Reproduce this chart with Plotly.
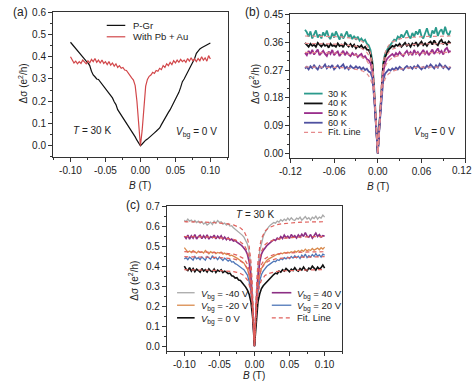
import numpy as np
import plotly.graph_objects as go

W, H = 474, 383
FONT = "Liberation Sans, Arial, sans-serif"

# ---------------- data ----------------
B = np.round(np.linspace(-0.1, 0.1, 81), 4)          # magnetic field sampling grid (T)
B_fit = [-0.1, -0.09, -0.08, -0.07, -0.06, -0.05, -0.04, -0.03, -0.025, -0.02, -0.015, -0.0125,
         -0.01, -0.0075, -0.005, -0.0035, -0.002, -0.001, 0.0, 0.001, 0.002, 0.0035, 0.005,
         0.0075, 0.01, 0.0125, 0.015, 0.02, 0.025, 0.03, 0.04, 0.05, 0.06, 0.07, 0.08, 0.09, 0.1]

# panel (a)
a_pgr = [0.465, 0.455, 0.445, 0.438, 0.425, 0.418, 0.405, 0.398, 0.388, 0.380,
         0.372, 0.360, 0.335, 0.318, 0.310, 0.300, 0.298, 0.288, 0.280, 0.270,
         0.260, 0.248, 0.240, 0.225, 0.215, 0.198, 0.185, 0.162, 0.150, 0.140,
         0.128, 0.115, 0.100, 0.090, 0.080, 0.070, 0.055, 0.040, 0.025, 0.010,
         0.000,
         0.008, 0.018, 0.025, 0.030, 0.036, 0.045, 0.052, 0.058, 0.065, 0.072,
         0.080, 0.095, 0.110, 0.118, 0.135, 0.150, 0.162, 0.178, 0.190, 0.205,
         0.222, 0.240, 0.262, 0.288, 0.300, 0.315, 0.330, 0.348, 0.362, 0.375,
         0.392, 0.415, 0.428, 0.435, 0.440, 0.445, 0.448, 0.452, 0.456, 0.462]
a_pbau = [0.400, 0.385, 0.372, 0.380, 0.368, 0.378, 0.370, 0.385, 0.375, 0.368,
          0.382, 0.372, 0.388, 0.378, 0.392, 0.375, 0.385, 0.372, 0.385, 0.370,
          0.378, 0.365, 0.378, 0.362, 0.372, 0.358, 0.368, 0.352, 0.360, 0.348,
          0.352, 0.340, 0.338, 0.325, 0.318, 0.305, 0.295, 0.270, 0.200, 0.090,
          0.000,
          0.070, 0.190, 0.268, 0.298, 0.312, 0.318, 0.330, 0.325, 0.338, 0.335,
          0.348, 0.342, 0.360, 0.352, 0.368, 0.360, 0.375, 0.365, 0.382, 0.372,
          0.385, 0.375, 0.388, 0.378, 0.385, 0.375, 0.392, 0.380, 0.395, 0.382,
          0.390, 0.378, 0.392, 0.382, 0.400, 0.385, 0.395, 0.380, 0.405, 0.390]

# panel (b)
b_30K = [0.400, 0.392, 0.378, 0.395, 0.372, 0.388, 0.398, 0.375, 0.385, 0.372,
         0.392, 0.380, 0.398, 0.378, 0.370, 0.390, 0.375, 0.395, 0.380, 0.368,
         0.388, 0.372, 0.382, 0.395, 0.375, 0.385, 0.370, 0.380, 0.368, 0.378,
         0.365, 0.372, 0.362, 0.368, 0.355, 0.350, 0.335, 0.300, 0.215, 0.110,
         0.000,
         0.105, 0.210, 0.295, 0.322, 0.335, 0.345, 0.352, 0.360, 0.368, 0.365,
         0.378, 0.372, 0.385, 0.375, 0.388, 0.398, 0.380, 0.372, 0.390, 0.378,
         0.395, 0.385, 0.402, 0.380, 0.372, 0.390, 0.405, 0.385, 0.375, 0.398,
         0.388, 0.408, 0.380, 0.395, 0.402, 0.385, 0.410, 0.390, 0.382, 0.398]
b_40K = [0.358, 0.350, 0.345, 0.355, 0.348, 0.352, 0.345, 0.358, 0.350, 0.346,
         0.355, 0.348, 0.352, 0.342, 0.355, 0.348, 0.350, 0.345, 0.356, 0.348,
         0.352, 0.344, 0.358, 0.350, 0.346, 0.354, 0.345, 0.352, 0.340, 0.348,
         0.344, 0.350, 0.340, 0.345, 0.336, 0.335, 0.322, 0.290, 0.205, 0.105,
         0.000,
         0.100, 0.200, 0.285, 0.312, 0.325, 0.336, 0.342, 0.348, 0.345, 0.352,
         0.348, 0.355, 0.345, 0.352, 0.358, 0.348, 0.354, 0.345, 0.356, 0.350,
         0.360, 0.348, 0.355, 0.362, 0.350, 0.356, 0.348, 0.358, 0.362, 0.352,
         0.366, 0.355, 0.350, 0.362, 0.368, 0.355, 0.360, 0.352, 0.362, 0.356]
b_50K = [0.325, 0.318, 0.332, 0.322, 0.335, 0.320, 0.328, 0.336, 0.318, 0.325,
         0.332, 0.322, 0.315, 0.330, 0.322, 0.335, 0.318, 0.325, 0.330, 0.315,
         0.322, 0.332, 0.318, 0.328, 0.320, 0.315, 0.325, 0.318, 0.322, 0.312,
         0.318, 0.322, 0.310, 0.315, 0.305, 0.302, 0.292, 0.268, 0.195, 0.100,
         0.000,
         0.098, 0.190, 0.262, 0.292, 0.305, 0.312, 0.318, 0.322, 0.315, 0.325,
         0.318, 0.328, 0.320, 0.315, 0.325, 0.332, 0.320, 0.328, 0.318, 0.335,
         0.322, 0.328, 0.318, 0.325, 0.335, 0.322, 0.330, 0.318, 0.326, 0.336,
         0.322, 0.330, 0.340, 0.325, 0.332, 0.320, 0.336, 0.342, 0.328, 0.332]
b_60K = [0.275, 0.280, 0.272, 0.282, 0.276, 0.285, 0.278, 0.272, 0.283, 0.276,
         0.280, 0.288, 0.275, 0.282, 0.278, 0.286, 0.272, 0.280, 0.285, 0.276,
         0.282, 0.288, 0.275, 0.280, 0.272, 0.284, 0.278, 0.275, 0.282, 0.276,
         0.280, 0.272, 0.278, 0.270, 0.274, 0.265, 0.262, 0.245, 0.180, 0.095,
         0.000,
         0.092, 0.175, 0.238, 0.258, 0.265, 0.272, 0.268, 0.275, 0.270, 0.278,
         0.272, 0.280, 0.275, 0.270, 0.278, 0.283, 0.276, 0.280, 0.274, 0.282,
         0.276, 0.285, 0.278, 0.272, 0.280, 0.276, 0.284, 0.278, 0.288, 0.280,
         0.275, 0.285, 0.278, 0.290, 0.282, 0.276, 0.284, 0.278, 0.272, 0.280]
b_fit_30K = [0.380, 0.380, 0.379, 0.379, 0.378, 0.377, 0.375, 0.371, 0.367, 0.361, 0.350, 0.340,
             0.325, 0.295, 0.230, 0.165, 0.090, 0.035, 0.000, 0.035, 0.090, 0.165, 0.230,
             0.295, 0.325, 0.340, 0.350, 0.361, 0.367, 0.371, 0.375, 0.377, 0.378, 0.379, 0.379, 0.380, 0.380]
b_fit_40K = [0.356, 0.356, 0.355, 0.355, 0.354, 0.353, 0.351, 0.347, 0.343, 0.337, 0.327, 0.318,
             0.304, 0.277, 0.217, 0.156, 0.086, 0.033, 0.000, 0.033, 0.086, 0.156, 0.217,
             0.277, 0.304, 0.318, 0.327, 0.337, 0.343, 0.347, 0.351, 0.353, 0.354, 0.355, 0.355, 0.356, 0.356]
b_fit_50K = [0.327, 0.327, 0.326, 0.326, 0.325, 0.324, 0.322, 0.318, 0.315, 0.310, 0.300, 0.292,
             0.280, 0.256, 0.203, 0.147, 0.082, 0.032, 0.000, 0.032, 0.082, 0.147, 0.203,
             0.256, 0.280, 0.292, 0.300, 0.310, 0.315, 0.318, 0.322, 0.324, 0.325, 0.326, 0.326, 0.327, 0.327]
b_fit_60K = [0.280, 0.280, 0.280, 0.279, 0.279, 0.278, 0.276, 0.273, 0.270, 0.266, 0.258, 0.251,
             0.241, 0.222, 0.180, 0.132, 0.075, 0.030, 0.000, 0.030, 0.075, 0.132, 0.180,
             0.222, 0.241, 0.251, 0.258, 0.266, 0.270, 0.273, 0.276, 0.278, 0.279, 0.279, 0.280, 0.280, 0.280]

# panel (c)
c_m40 = [0.630, 0.622, 0.635, 0.625, 0.630, 0.620, 0.628, 0.618, 0.625, 0.615,
         0.622, 0.610, 0.618, 0.605, 0.612, 0.620, 0.608, 0.625, 0.615, 0.628,
         0.618, 0.622, 0.610, 0.615, 0.605, 0.612, 0.600, 0.602, 0.592, 0.585,
         0.578, 0.570, 0.562, 0.555, 0.545, 0.530, 0.510, 0.470, 0.390, 0.240,
         0.000,
         0.240, 0.395, 0.475, 0.515, 0.548, 0.568, 0.585, 0.595, 0.605, 0.610,
         0.618, 0.615, 0.625, 0.620, 0.632, 0.625, 0.635, 0.628, 0.640, 0.630,
         0.642, 0.632, 0.628, 0.640, 0.635, 0.645, 0.630, 0.638, 0.648, 0.635,
         0.642, 0.630, 0.645, 0.638, 0.650, 0.635, 0.645, 0.640, 0.655, 0.645]
c_p40 = [0.550, 0.538, 0.555, 0.535, 0.552, 0.540, 0.558, 0.536, 0.548, 0.555,
         0.538, 0.552, 0.540, 0.556, 0.535, 0.548, 0.542, 0.555, 0.536, 0.550,
         0.540, 0.552, 0.535, 0.545, 0.532, 0.542, 0.530, 0.535, 0.525, 0.528,
         0.520, 0.515, 0.508, 0.500, 0.490, 0.478, 0.458, 0.420, 0.340, 0.200,
         0.000,
         0.200, 0.342, 0.420, 0.460, 0.478, 0.492, 0.502, 0.510, 0.518, 0.525,
         0.532, 0.528, 0.540, 0.535, 0.548, 0.538, 0.555, 0.542, 0.550, 0.538,
         0.558, 0.545, 0.552, 0.540, 0.556, 0.545, 0.560, 0.548, 0.568, 0.550,
         0.545, 0.558, 0.540, 0.552, 0.565, 0.548, 0.558, 0.545, 0.552, 0.550]
c_m20 = [0.492, 0.478, 0.470, 0.475, 0.468, 0.478, 0.470, 0.465, 0.475, 0.468,
         0.472, 0.465, 0.478, 0.468, 0.462, 0.472, 0.466, 0.470, 0.462, 0.468,
         0.465, 0.470, 0.460, 0.465, 0.458, 0.460, 0.452, 0.455, 0.448, 0.445,
         0.440, 0.435, 0.428, 0.422, 0.415, 0.402, 0.385, 0.352, 0.290, 0.180,
         0.000,
         0.180, 0.292, 0.355, 0.388, 0.405, 0.418, 0.428, 0.435, 0.440, 0.448,
         0.452, 0.455, 0.460, 0.458, 0.465, 0.462, 0.468, 0.465, 0.470, 0.466,
         0.472, 0.468, 0.475, 0.470, 0.478, 0.472, 0.480, 0.474, 0.485, 0.476,
         0.482, 0.478, 0.488, 0.480, 0.485, 0.490, 0.482, 0.492, 0.485, 0.495]
c_p20 = [0.435, 0.442, 0.432, 0.445, 0.438, 0.430, 0.448, 0.436, 0.442, 0.432,
         0.446, 0.438, 0.430, 0.448, 0.440, 0.434, 0.452, 0.438, 0.444, 0.432,
         0.445, 0.436, 0.428, 0.440, 0.430, 0.425, 0.432, 0.420, 0.422, 0.412,
         0.408, 0.400, 0.395, 0.388, 0.382, 0.370, 0.355, 0.322, 0.268, 0.165,
         0.000,
         0.165, 0.270, 0.325, 0.358, 0.375, 0.388, 0.398, 0.405, 0.412, 0.418,
         0.425, 0.422, 0.432, 0.428, 0.438, 0.432, 0.442, 0.436, 0.445, 0.438,
         0.448, 0.440, 0.452, 0.442, 0.450, 0.438, 0.455, 0.445, 0.460, 0.442,
         0.452, 0.445, 0.458, 0.448, 0.462, 0.450, 0.456, 0.445, 0.460, 0.455]
c_0 = [0.400, 0.385, 0.378, 0.392, 0.375, 0.388, 0.372, 0.385, 0.378, 0.370,
       0.388, 0.375, 0.382, 0.370, 0.386, 0.376, 0.372, 0.385, 0.368, 0.380,
       0.374, 0.382, 0.368, 0.375, 0.370, 0.362, 0.365, 0.352, 0.350, 0.340,
       0.342, 0.330, 0.328, 0.318, 0.310, 0.295, 0.280, 0.258, 0.220, 0.140,
       0.000,
       0.140, 0.222, 0.262, 0.288, 0.302, 0.312, 0.322, 0.330, 0.342, 0.350,
       0.358, 0.365, 0.362, 0.375, 0.370, 0.382, 0.375, 0.388, 0.378, 0.372,
       0.385, 0.378, 0.392, 0.380, 0.375, 0.388, 0.380, 0.395, 0.382, 0.376,
       0.390, 0.385, 0.400, 0.388, 0.380, 0.395, 0.385, 0.392, 0.405, 0.390]
c_fit_m40 = [0.622, 0.622, 0.621, 0.620, 0.618, 0.616, 0.612, 0.606, 0.600, 0.591, 0.575, 0.560,
             0.538, 0.498, 0.423, 0.336, 0.224, 0.118, 0.000, 0.118, 0.224, 0.336, 0.423,
             0.498, 0.538, 0.560, 0.575, 0.591, 0.600, 0.606, 0.612, 0.616, 0.618, 0.620, 0.621, 0.622, 0.622]
c_fit_p40 = [0.548, 0.548, 0.547, 0.546, 0.544, 0.543, 0.539, 0.534, 0.529, 0.521, 0.507, 0.493,
             0.474, 0.438, 0.373, 0.296, 0.197, 0.104, 0.000, 0.104, 0.197, 0.296, 0.373,
             0.438, 0.474, 0.493, 0.507, 0.521, 0.529, 0.534, 0.539, 0.543, 0.544, 0.546, 0.547, 0.548, 0.548]
c_fit_m20 = [0.472, 0.472, 0.471, 0.470, 0.469, 0.467, 0.464, 0.460, 0.455, 0.448, 0.437, 0.425,
             0.408, 0.378, 0.321, 0.255, 0.170, 0.090, 0.000, 0.090, 0.170, 0.255, 0.321,
             0.378, 0.408, 0.425, 0.437, 0.448, 0.455, 0.460, 0.464, 0.467, 0.469, 0.470, 0.471, 0.472, 0.472]
c_fit_p20 = [0.447, 0.447, 0.446, 0.445, 0.444, 0.443, 0.440, 0.436, 0.431, 0.425, 0.413, 0.402,
             0.387, 0.358, 0.304, 0.241, 0.161, 0.085, 0.000, 0.085, 0.161, 0.241, 0.304,
             0.358, 0.387, 0.402, 0.413, 0.425, 0.431, 0.436, 0.440, 0.443, 0.444, 0.445, 0.446, 0.447, 0.447]
c_fit_0 = [0.382, 0.382, 0.381, 0.380, 0.379, 0.378, 0.376, 0.372, 0.369, 0.363, 0.353, 0.344,
           0.330, 0.306, 0.260, 0.206, 0.138, 0.073, 0.000, 0.073, 0.138, 0.206, 0.260,
           0.306, 0.330, 0.344, 0.353, 0.363, 0.369, 0.372, 0.376, 0.378, 0.379, 0.380, 0.381, 0.382, 0.382]

# tick labels
a_xticks = [-0.10, -0.05, 0.0, 0.05, 0.10]
a_xlabels = ["-0.10", "-0.05", "0.00", "0.05", "0.10"]
a_yticks = [0.0, 0.1, 0.2, 0.3, 0.4, 0.5, 0.6]
a_ylabels = ["0.0", "0.1", "0.2", "0.3", "0.4", "0.5", "0.6"]
b_xticks = [-0.12, -0.06, 0.0, 0.06, 0.12]
b_xlabels = ["-0.12", "-0.06", "0.00", "0.06", ""]   # last label ("0.12") placed at the figure edge below
b_xlabel_last = "0.12"
b_yticks = [0.0, 0.09, 0.18, 0.27, 0.36, 0.45]
b_ylabels = ["0.00", "0.09", "0.18", "0.27", "0.36", "0.45"]
c_yticks = [0.0, 0.1, 0.2, 0.3, 0.4, 0.5, 0.6, 0.7]
c_ylabels = ["0.0", "0.1", "0.2", "0.3", "0.4", "0.5", "0.6", "0.7"]

for arr in [a_pgr, a_pbau, b_30K, b_40K, b_50K, b_60K, c_m40, c_p40, c_m20, c_p20, c_0]:
    assert len(arr) == len(B), len(arr)
for arr in [b_fit_30K, b_fit_40K, b_fit_50K, b_fit_60K, c_fit_m40, c_fit_p40, c_fit_m20, c_fit_p20, c_fit_0]:
    assert len(arr) == len(B_fit), len(arr)

# ---------------- styles ----------------
RED = "#d2474a"
TEAL = "#2b9a8c"
MAG = "#9a2f8c"
BLUEP = "#4f51a0"
FITB = "#e58a8c"
GRAY = "#a9a9a9"
ORANGE = "#d98b4e"
PURPLE = "#8c2f84"
BLUE = "#4f77b8"
FITC = "#e0605c"
DASH = "4px,3px"


def X(px):
    return px / W


def Y(py):
    return 1 - py / H


fig = go.Figure()


def add(x, y, color, width, ax, dash=None):
    fig.add_trace(go.Scatter(x=x, y=y, mode="lines", xaxis="x" + ax, yaxis="y" + ax,
                             line=dict(color=color, width=width, dash=dash),
                             showlegend=False, hoverinfo="skip"))


# (a)
add(B, a_pgr, "#111111", 1.2, "")
add(B, a_pbau, RED, 1.2, "")
# (b)
add(B, b_30K, TEAL, 1.8, "2")
add(B, b_40K, "#111111", 1.8, "2")
add(B, b_50K, MAG, 1.8, "2")
add(B, b_60K, BLUEP, 1.8, "2")
for f in [b_fit_30K, b_fit_40K, b_fit_50K, b_fit_60K]:
    add(B_fit, f, FITB, 1.2, "2", DASH)
# (c)
add(B, c_m40, GRAY, 1.3, "3")
add(B, c_m20, ORANGE, 1.3, "3")
add(B, c_p20, BLUE, 1.3, "3")
add(B, c_p40, PURPLE, 1.6, "3")
add(B, c_0, "#111111", 1.6, "3")
for f in [c_fit_m40, c_fit_p40, c_fit_m20, c_fit_p20, c_fit_0]:
    add(B_fit, f, FITC, 1.2, "3", DASH)


def axis(domain, rng, tv, tt, mdt, anchor):
    return dict(domain=domain, range=rng, tickmode="array", tickvals=tv, ticktext=tt,
                ticks="outside", ticklen=4, tickwidth=1, tickcolor="#333",
                showline=True, linecolor="#333", linewidth=1, mirror=True,
                showgrid=False, zeroline=False, anchor=anchor, fixedrange=True,
                ticklabeloverflow="allow",
                tickfont=dict(size=10, color="#222", family=FONT),
                minor=dict(tickmode="linear", tick0=0, dtick=mdt, ticks="outside",
                           ticklen=2, tickwidth=1, tickcolor="#333", showgrid=False))


fig.update_layout(
    width=W, height=H, margin=dict(l=0, r=0, t=0, b=0),
    paper_bgcolor="white", plot_bgcolor="white",
    font=dict(family=FONT, size=10, color="#222"),
    xaxis=axis([X(43), X(222)], [-0.125, 0.125], a_xticks, a_xlabels, 0.025, "y"),
    yaxis=axis([Y(154.3), Y(7.3)], [-0.05, 0.6001], a_yticks, a_ylabels, 0.05, "x"),
    xaxis2=axis([X(286), X(465)], [-0.1201, 0.1201], b_xticks, b_xlabels, 0.03, "y2"),
    yaxis2=axis([Y(155.5), Y(9.5)], [-0.015, 0.4501], b_yticks, b_ylabels, 0.03, "x2"),
    xaxis3=axis([X(159.5), X(339)], [-0.125, 0.125], a_xticks, a_xlabels, 0.025, "y3"),
    yaxis3=axis([Y(351), Y(204.3)], [-0.022, 0.7001], c_yticks, c_ylabels, 0.05, "x3"),
)

ann = []
shapes = []


def text(px, py, s, size=10, xanchor="left", angle=0):
    ann.append(dict(x=X(px), y=Y(py), xref="paper", yref="paper", text=s, showarrow=False,
                    xanchor=xanchor, yanchor="middle", textangle=angle,
                    font=dict(family=FONT, size=size, color="#222")))


def legline(x0, x1, py, color, width, dash=None):
    shapes.append(dict(type="line", xref="paper", yref="paper", x0=X(x0), x1=X(x1), y0=Y(py), y1=Y(py),
                       line=dict(color=color, width=width, dash=dash)))


YT = "Δσ (e<sup>2</sup>/h)"
XT = "<i>B</i> (T)"
VBG = "<i>V</i><sub>bg</sub>"
LF = 9.5

# panel labels
text(0, 7, "(a)", 12)
text(237, 7, "(b)", 12)
text(116, 203, "(c)", 12)
# axis titles
text(12, 80, YT, 10, "center", -90)
text(132.5, 183, XT, 10, "center")
text(249, 80, YT, 10, "center", -90)
text(375.5, 184, XT, 10, "center")
text(125, 280, YT, 10, "center", -90)
text(249, 376, XT, 10, "center")
# last tick label of panel (b) x axis, kept inside the figure edge
ann.append(dict(x=0.12, y=Y(168), xref="x2", yref="paper", text=b_xlabel_last, showarrow=False,
                xanchor="center", yanchor="middle", xshift=-3,
                font=dict(family=FONT, size=10, color="#222")))
# panel (a) notes & legend
text(61, 128, "<i>T</i> = 30 K")
text(213, 130, VBG + " = 0 V", 10, "right")
legline(98, 117, 20.7, "#111111", 1.2)
text(123, 20.7, "P-Gr", LF)
legline(98, 117, 32.3, RED, 1.2)
text(123, 32.3, "With Pb + Au", LF)
# panel (b)
text(457, 130, VBG + " = 0 V", 10, "right")
for py, col, lab in [(90, TEAL, "30 K"), (100, "#111111", "40 K"), (109.8, MAG, "50 K"),
                     (119.6, BLUEP, "60 K")]:
    legline(300, 319, py, col, 1.8)
    text(322, py, lab, 9.2)
legline(300, 319, 129.4, FITB, 1.2, DASH)
text(322, 129.4, "Fit. Line", 9.2)
# panel (c)
text(250, 213, "<i>T</i> = 30 K", 10, "center")
for py, col, lab, w in [(292.3, GRAY, " = -40 V", 1.3), (305, ORANGE, " = -20 V", 1.3),
                        (317.8, "#111111", " = 0 V", 1.6)]:
    legline(170, 188, py, col, w)
    text(192, py + 1.5, VBG + lab, LF)
for py, col, lab, w in [(292.3, PURPLE, " = 40 V", 1.6), (305, BLUE, " = 20 V", 1.3)]:
    legline(267, 287, py, col, w)
    text(291, py + 1.5, VBG + lab, LF)
legline(267, 287, 317.8, FITC, 1.2, DASH)
text(291, 317.8, "Fit. Line", LF)

fig.update_layout(annotations=ann, shapes=shapes)
fig.write_html("out.html", config={"displayModeBar": False},
               post_script="document.body.style.margin='0';document.body.style.overflow='hidden';")
